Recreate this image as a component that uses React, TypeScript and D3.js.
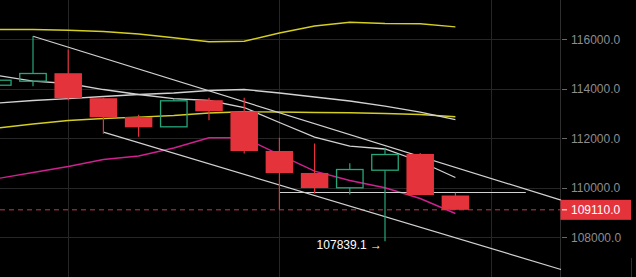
import React from "react";
import * as d3 from "d3";

const W = 636;
const H = 277;

// Candles (index 0..13)
const opens = [114145, 114307, 114630, 113620, 112860, 112464, 113539, 113091, 111487, 110600, 110000, 110711, 111366, 109689];
const highs = [114347, 116125, 115587, 113640, 112953, 113596, 113636, 113636, 112020, 111790, 110994, 111616, 111406, 109798];
const lows = [114100, 114105, 113539, 112182, 112060, 112460, 112731, 111386, 109123, 109770, 109729, 107839.1, 109709, 109110];
const closes = [114347, 114618, 113620, 112852, 112444, 113515, 113091, 111487, 110598, 109992, 110739, 111345, 109709, 109110];

// Overlay lines (values at candle indices 0..13)
const upperYellow = [116395, 116395, 116367, 116315, 116214, 116060, 115899, 115923, 116254, 116537, 116690, 116638, 116626, 116504];
const midYellow = [112416, 112578, 112719, 112800, 112856, 112921, 113022, 113070, 113062, 113042, 113030, 113002, 112961, 112868];
const fastWhite = [114537, 114307, 114214, 113971, 113769, 113607, 113527, 113244, 112638, 112052, 111681, 111568, 111063, 110416];
const slowWhite = [113426, 113527, 113607, 113688, 113769, 113830, 113931, 113971, 113830, 113668, 113507, 113297, 113062, 112759];
const magenta = [110376, 110618, 110861, 111143, 111285, 111608, 112020, 112020, 111345, 110671, 110295, 110000, 109568, 108962];

// Channel lines [index, price]
const upperChannel: [number, number][] = [[1, 116125], [16, 109500]];
const lowerChannel: [number, number][] = [[3, 112250], [16, 106700]];
const flatLine: [number, number][] = [[8, 109810], [15, 109810]];

const yTicks = [108000, 110000, 112000, 114000, 116000];
const xGridIdx = [2, 8, 14];
const lastPrice = 109110;
const lowLabel = "107839.1";

const RED = "#e5333b";
const GREEN = "#27a57b";
const WHITE = "#d2d2d2";
const YELLOW = "#d4ce22";
const MAGENTA = "#cf2190";
const GRID = "#262626";

export default function App() {
  const x = d3.scaleLinear().domain([0, 1]).range([-2.2, 33]);
  const y = d3.scaleLinear().domain([108000, 116000]).range([237.3, 39.3]);
  const plotRight = 560.5;
  const bw = 27.5;

  const line = d3
    .line<number>()
    .x((_, i) => x(i))
    .y((d) => y(d));
  const segLine = d3
    .line<[number, number]>()
    .x((d) => x(d[0]))
    .y((d) => y(d[1]));

  const font = "'Liberation Sans', Arial, Helvetica, sans-serif";

  return (
    <svg
      width={W}
      height={H}
      style={{ position: "absolute", left: 0, top: 0, background: "#000" }}
    >
      <rect x={0} y={0} width={W} height={H} fill="#000" />
      {/* grid */}
      {yTicks.map((t) => (
        <line key={"h" + t} x1={0} x2={plotRight} y1={Math.round(y(t)) + 0.5} y2={Math.round(y(t)) + 0.5} stroke={GRID} strokeWidth={1} />
      ))}
      {xGridIdx.map((i) => (
        <line key={"v" + i} x1={Math.round(x(i)) + 0.5} x2={Math.round(x(i)) + 0.5} y1={0} y2={H} stroke={GRID} strokeWidth={1} />
      ))}
      <line x1={plotRight} x2={plotRight} y1={0} y2={H} stroke="#2e2e2e" strokeWidth={1} />
      <line x1={631.5} x2={631.5} y1={258} y2={H} stroke="#2e2e2e" strokeWidth={1} />

      {/* dashed last price */}
      <line x1={0} x2={plotRight} y1={y(lastPrice)} y2={y(lastPrice)} stroke="#c23a55" strokeWidth={1} strokeDasharray="5 4" />

      {/* overlays */}
      <path d={line(upperYellow) || ""} fill="none" stroke={YELLOW} strokeWidth={1.4} />
      <path d={line(midYellow) || ""} fill="none" stroke={YELLOW} strokeWidth={1.4} />
      <path d={line(slowWhite) || ""} fill="none" stroke={WHITE} strokeWidth={1.3} />
      <path d={line(fastWhite) || ""} fill="none" stroke={WHITE} strokeWidth={1.3} />
      <path d={line(magenta) || ""} fill="none" stroke={MAGENTA} strokeWidth={1.4} />
      <path d={segLine(upperChannel) || ""} fill="none" stroke={WHITE} strokeWidth={1.2} />
      <path d={segLine(lowerChannel) || ""} fill="none" stroke={WHITE} strokeWidth={1.2} />
      <path d={segLine(flatLine) || ""} fill="none" stroke={WHITE} strokeWidth={1.2} />

      {/* candles */}
      {opens.map((o, i) => {
        const c = closes[i];
        const up = c >= o;
        const col = up ? GREEN : RED;
        const cx = x(i);
        const top = y(Math.max(o, c));
        const bot = y(Math.min(o, c));
        return (
          <g key={"c" + i}>
            {up ? (
              <>
                <line x1={cx} x2={cx} y1={y(highs[i])} y2={top} stroke={col} strokeWidth={1.2} />
                <line x1={cx} x2={cx} y1={bot} y2={y(lows[i])} stroke={col} strokeWidth={1.2} />
                <rect x={cx - bw / 2 + 0.5} y={top} width={bw - 1} height={Math.max(1, bot - top)} fill="#000" fillOpacity={0} stroke={col} strokeWidth={1.3} />
              </>
            ) : (
              <>
                <line x1={cx} x2={cx} y1={y(highs[i])} y2={y(lows[i])} stroke={col} strokeWidth={1.2} />
                <rect x={cx - bw / 2} y={top} width={bw} height={Math.max(1, bot - top)} fill={col} />
              </>
            )}
          </g>
        );
      })}

      {/* low annotation */}
      <text x={x(11) - 3} y={y(lows[11]) + 8} fill="#ffffff" fontSize={12} fontFamily={font} textAnchor="end">
        {lowLabel + " →"}
      </text>

      {/* y axis */}
      {yTicks.map((t) => (
        <g key={"t" + t}>
          <line x1={562} x2={567} y1={Math.round(y(t)) + 0.5} y2={Math.round(y(t)) + 0.5} stroke="#6a6a6a" />
          <text x={571} y={y(t) + 4.3} fill="#8d8d8d" fontSize={12} fontFamily={font}>
            {t.toFixed(1)}
          </text>
        </g>
      ))}
      <rect x={560.5} y={y(lastPrice) - 10} width={70.5} height={20} fill={RED} />
      <line x1={562} x2={567} y1={y(lastPrice)} y2={y(lastPrice)} stroke="#fff" />
      <text x={571} y={y(lastPrice) + 4.3} fill="#ffffff" fontSize={12} fontFamily={font}>
        {lastPrice.toFixed(1)}
      </text>
    </svg>
  );
}
